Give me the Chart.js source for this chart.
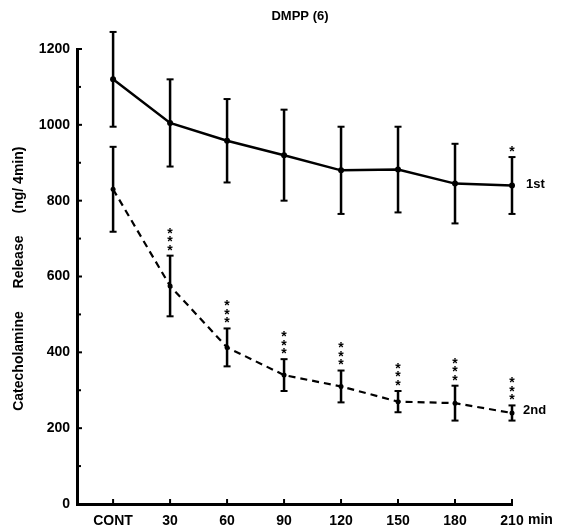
<!DOCTYPE html>
<html>
<head>
<meta charset="utf-8">
<script src="https://cdn.jsdelivr.net/npm/chart.js@4.4.1/dist/chart.umd.min.js"></script>
<style>
html,body{margin:0;padding:0;background:#fff;}
#wrap{width:563px;height:530px;position:relative;}
</style>
</head>
<body>
<div id="wrap"><canvas id="c" width="563" height="530"></canvas></div>
<script>
const categories = ['CONT','30','60','90','120','150','180','210'];
const timeValues = [0,30,60,90,120,150,180,210];
const firstMean = [1120,1005,958,920,880,882,845,840];
const firstErr  = [125,115,110,120,115,113,105,75];
const secondMean = [830,575,413,340,310,270,266,240];
const secondErr  = [112,80,50,42,42,28,46,20];
const firstSig  = ['','','','','','','','*'];
const secondSig = ['','***','***','***','***','***','***','***'];
const yTicks = [0,200,400,600,800,1000,1200];
const yMinorTicks = [100,300,500,700,900,1100];
const seriesLabels = ['1st','2nd'];
const titleText = 'DMPP (6)';
const yTitleParts = ['Catecholamine','Release','(ng/ 4min)'];
const xUnit = 'min';

const FONT = '"Liberation Sans", Arial, Helvetica, sans-serif';

const pts = (arr) => arr.map((v,i)=>({x: timeValues[i], y: v}));

const decor = {
  id: 'decor',
  afterDraw(chart) {
    const {ctx, scales:{x, y}} = chart;
    ctx.save();
    ctx.fillStyle = '#000';
    ctx.strokeStyle = '#000';
    // inward ticks on y axis
    ctx.lineWidth = 2;
    yTicks.forEach(v => {
      const py = y.getPixelForValue(v);
      ctx.beginPath(); ctx.moveTo(x.left, py); ctx.lineTo(x.left + 5, py); ctx.stroke();
    });
    yMinorTicks.forEach(v => {
      const py = y.getPixelForValue(v);
      ctx.beginPath(); ctx.moveTo(x.left, py); ctx.lineTo(x.left + 4, py); ctx.stroke();
    });
    // upward ticks on x axis
    timeValues.forEach(v => {
      const px = x.getPixelForValue(v);
      ctx.beginPath(); ctx.moveTo(px, y.bottom); ctx.lineTo(px, y.bottom - 5); ctx.stroke();
    });

    // error bars
    const drawErr = (means, errs) => {
      means.forEach((m,i) => {
        const px = x.getPixelForValue(timeValues[i]);
        const top = y.getPixelForValue(m + errs[i]);
        const bot = y.getPixelForValue(m - errs[i]);
        ctx.lineWidth = 2.5;
        ctx.beginPath(); ctx.moveTo(px, top); ctx.lineTo(px, bot); ctx.stroke();
        ctx.lineWidth = 2;
        ctx.beginPath(); ctx.moveTo(px-3.5, top); ctx.lineTo(px+3.5, top); ctx.stroke();
        ctx.beginPath(); ctx.moveTo(px-3.5, bot); ctx.lineTo(px+3.5, bot); ctx.stroke();
      });
    };
    drawErr(firstMean, firstErr);
    drawErr(secondMean, secondErr);

    // significance stars (stacked vertically)
    ctx.font = 'bold 14px ' + FONT;
    ctx.textAlign = 'center';
    ctx.textBaseline = 'middle';
    const drawSig = (means, errs, sig) => {
      sig.forEach((s,i) => {
        if (!s) return;
        const px = x.getPixelForValue(timeValues[i]);
        const top = y.getPixelForValue(means[i] + errs[i]);
        for (let k = 0; k < s.length; k++) {
          ctx.fillText(s[k], px, top - 5 - k*8.5);
        }
      });
    };
    drawSig(firstMean, firstErr, firstSig);
    drawSig(secondMean, secondErr, secondSig);

    // series labels
    ctx.font = 'bold 13px ' + FONT;
    ctx.textAlign = 'left';
    const lastIdx = timeValues.length - 1;
    const lx = x.getPixelForValue(timeValues[lastIdx]) + 14;
    ctx.fillText(seriesLabels[0], lx, y.getPixelForValue(firstMean[lastIdx]) - 1);
    ctx.fillText(seriesLabels[1], lx - 3, y.getPixelForValue(secondMean[lastIdx]) - 3);

    // x unit
    ctx.font = 'bold 14px ' + FONT;
    ctx.fillText(xUnit, x.getPixelForValue(timeValues[lastIdx]) + 16, y.bottom + 16);

    // title
    ctx.textAlign = 'center';
    ctx.font = 'bold 13px ' + FONT;
    ctx.fillText(titleText, 300, 16);

    // y axis title
    ctx.font = 'bold 14px ' + FONT;
    ctx.translate(19, 0);
    ctx.rotate(-Math.PI/2);
    ctx.fillText(yTitleParts[0], -361, 0);
    ctx.fillText(yTitleParts[1], -262, 0);
    ctx.fillText(yTitleParts[2], -180, 0);
    ctx.restore();
  }
};

new Chart(document.getElementById('c'), {
  type: 'line',
  data: {
    datasets: [
      {
        label: seriesLabels[0],
        data: pts(firstMean),
        borderColor: '#000',
        backgroundColor: '#000',
        borderWidth: 2.5,
        pointRadius: 3,
        pointBackgroundColor: '#000',
        pointBorderWidth: 0,
        tension: 0,
        clip: false
      },
      {
        label: seriesLabels[1],
        data: pts(secondMean),
        borderColor: '#000',
        backgroundColor: '#000',
        borderWidth: 2.2,
        borderDash: [7,5],
        pointRadius: 2.5,
        pointBackgroundColor: '#000',
        pointBorderWidth: 0,
        tension: 0,
        clip: false
      }
    ]
  },
  options: {
    responsive: false,
    animation: false,
    devicePixelRatio: 1,
    layout: { padding: { top: 49, right: 51, left: 0, bottom: 0 } },
    plugins: { legend: { display: false }, tooltip: { enabled: false }, title: { display: false } },
    scales: {
      x: {
        type: 'linear',
        min: -19,
        max: 210,
        afterBuildTicks: (s) => { s.ticks = timeValues.map(v => ({value: v})); },
        afterFit: (s) => { s.height = 26; },
        grid: { display: false, drawTicks: false },
        border: { display: true, color: '#000', width: 3 },
        ticks: {
          color: '#000',
          padding: 9,
          maxRotation: 0,
          autoSkip: false,
          font: { family: FONT, size: 14, weight: 'bold' },
          callback: (v) => { const i = timeValues.indexOf(v); return i >= 0 ? categories[i] : ''; }
        }
      },
      y: {
        type: 'linear',
        min: 0,
        max: 1200,
        afterBuildTicks: (s) => { s.ticks = yTicks.map(v => ({value: v})); },
        afterFit: (s) => { s.width = 77; },
        grid: { display: false, drawTicks: false },
        border: { display: true, color: '#000', width: 3 },
        ticks: {
          color: '#000',
          padding: 7,
          font: { family: FONT, size: 14, weight: 'bold' },
          callback: (v) => String(v)
        }
      }
    }
  },
  plugins: [decor]
});
</script>
</body>
</html>
